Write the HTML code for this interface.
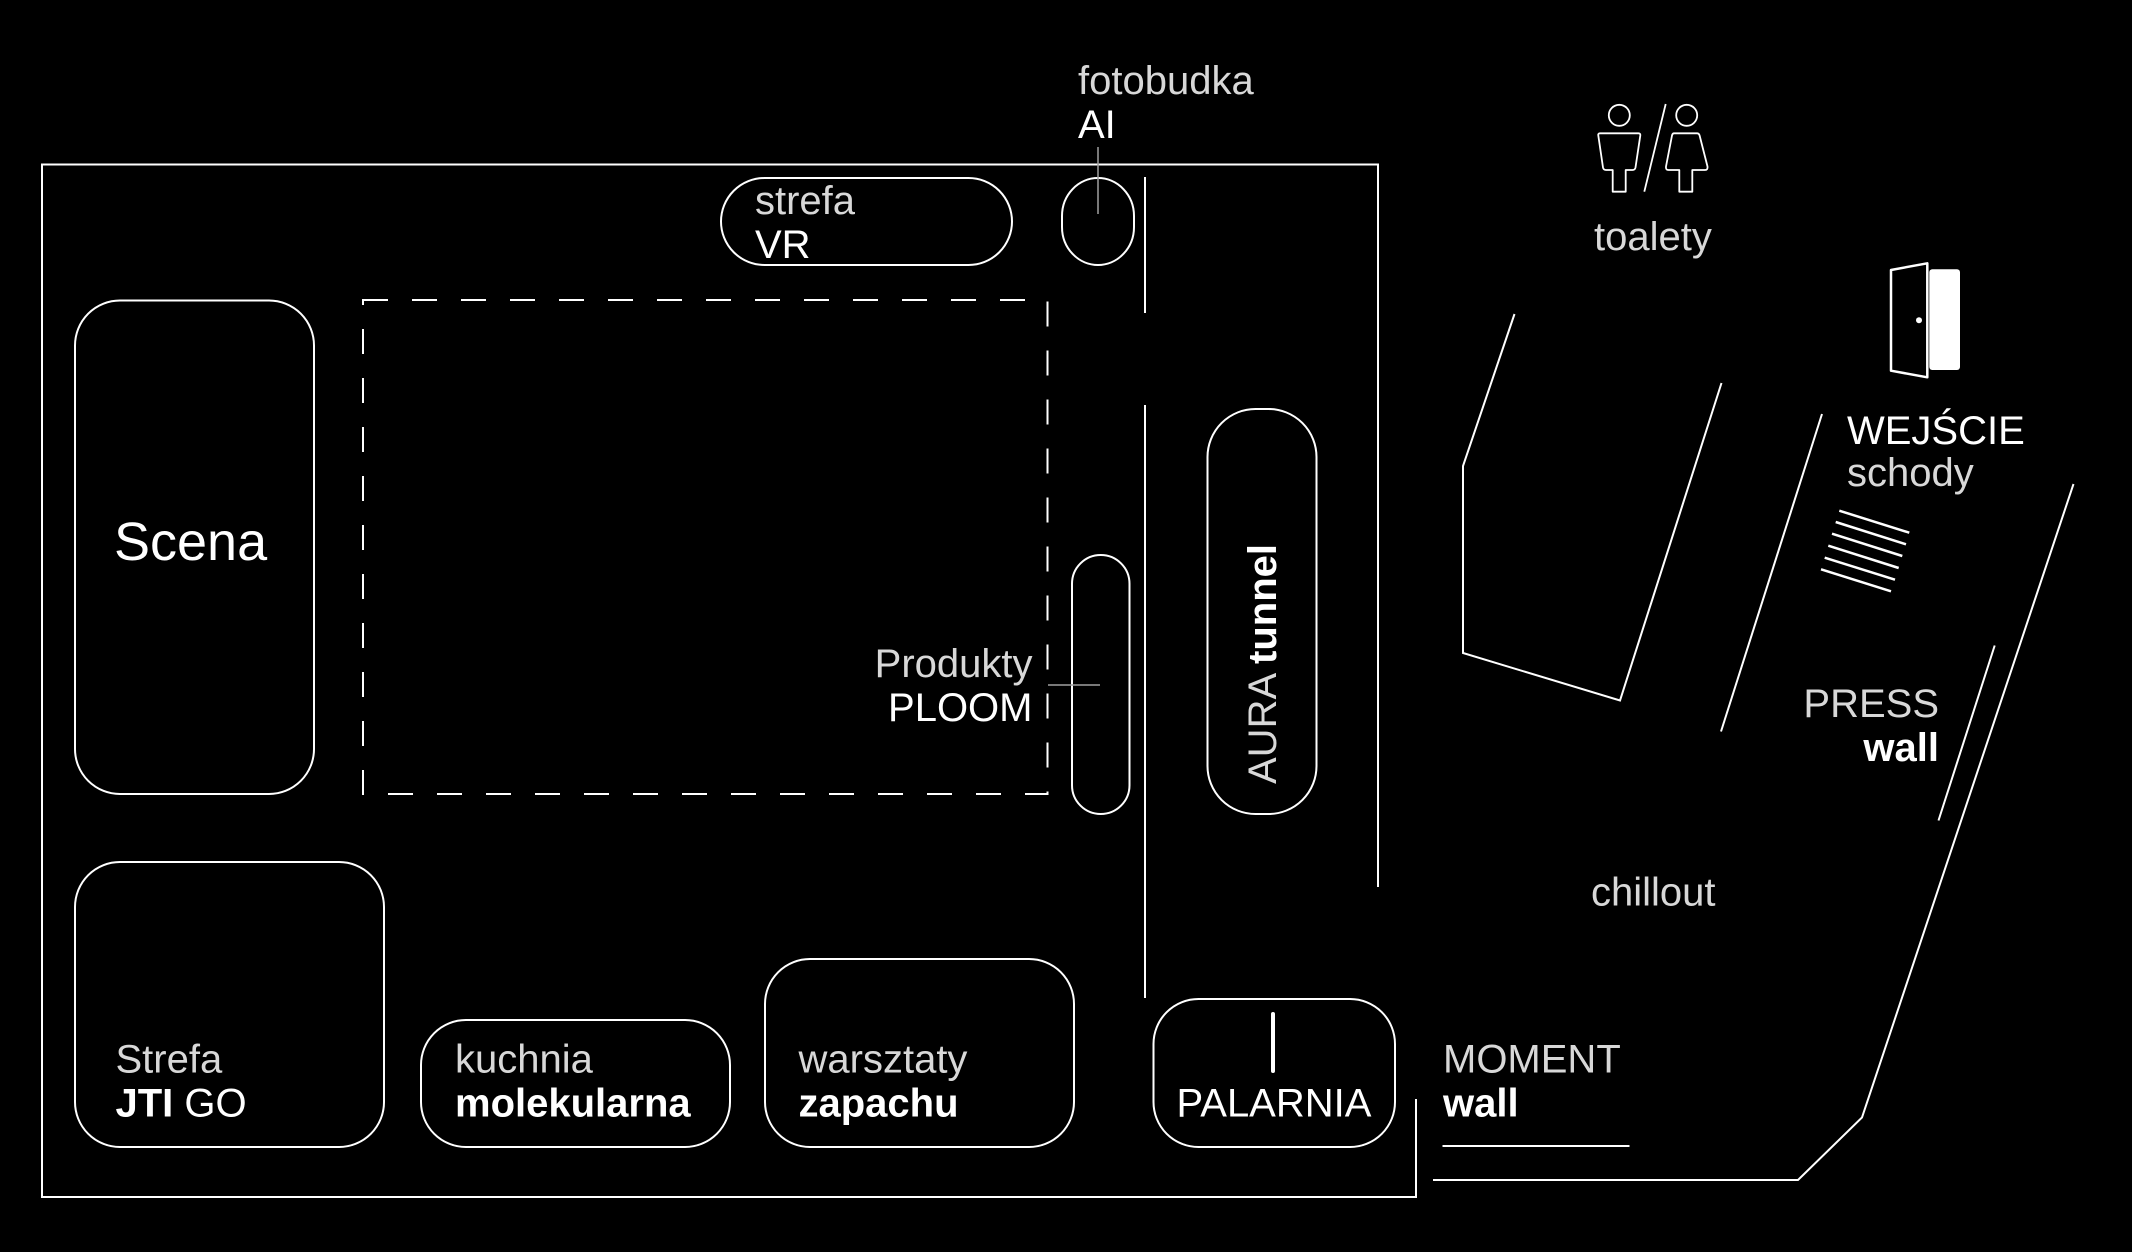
<!DOCTYPE html>
<html>
<head>
<meta charset="utf-8">
<style>
  html, body { margin: 0; padding: 0; background: #000; }
  body { width: 2132px; height: 1252px; overflow: hidden; }
  svg { display: block; }
  text { font-family: "Liberation Sans", "DejaVu Sans", sans-serif; font-size: 40px; }
  .l { fill: #d8d8d8; font-weight: 400; }
  .m { fill: #ffffff; font-weight: 400; }
  .b { fill: #ffffff; font-weight: 700; }
</style>
</head>
<body>
<svg width="2132" height="1252" viewBox="0 0 2132 1252" xmlns="http://www.w3.org/2000/svg">
  <rect x="0" y="0" width="2132" height="1252" fill="#000"/>

  <g fill="none" stroke="#fff" stroke-width="2">
    <!-- outer room -->
    <polyline points="1378,887 1378,164.5 42,164.5 42,1197 1416,1197 1416,1099"/>
    <!-- inner vertical wall -->
    <line x1="1145" y1="177" x2="1145" y2="313"/>
    <line x1="1145" y1="405" x2="1145" y2="998"/>

    <!-- right area lines -->
    <polyline points="1433,1180 1798,1180 1862,1117.5 2073.5,484"/>
    <polyline points="1514.5,314 1463,466 1463,653 1620,700.5 1721.5,383"/>
    <line x1="1822" y1="414" x2="1721" y2="731.5"/>
    <line x1="1994.7" y1="645.5" x2="1938.5" y2="820.5"/>
    <!-- MOMENT wall underline -->
    <line x1="1442.5" y1="1146" x2="1629.5" y2="1146"/>

    <!-- pills -->
    <rect x="721" y="178" width="291" height="87" rx="43.5" ry="43.5"/>
    <rect x="1062" y="178" width="72" height="87" rx="36" ry="38"/>
    <rect x="75" y="300.5" width="239" height="493.5" rx="45" ry="45"/>
    <rect x="1072" y="555" width="57.5" height="259" rx="28.75" ry="28.75"/>
    <rect x="1207.5" y="409" width="109" height="405" rx="48" ry="48"/>
    <rect x="75" y="862" width="309" height="285" rx="45" ry="45"/>
    <rect x="421" y="1020" width="309" height="127" rx="45" ry="45"/>
    <rect x="765" y="959" width="309" height="188" rx="45" ry="45"/>
    <rect x="1153.5" y="999" width="241.5" height="148" rx="45" ry="45"/>

    <!-- dashed zone -->
    <rect x="363" y="300" width="684.5" height="494" stroke-dasharray="25 24"/>
  </g>

  <!-- leader lines -->
  <g stroke="#a0a0a0" stroke-width="1.5" fill="none">
    <line x1="1098" y1="147" x2="1098" y2="214"/>
    <line x1="1048" y1="685" x2="1100" y2="685"/>
  </g>

  <!-- PALARNIA mark -->
  <line x1="1273" y1="1014" x2="1273" y2="1071" stroke="#fff" stroke-width="4" stroke-linecap="round"/>

  <!-- toilet icon -->
  <g fill="none" stroke="#fff" stroke-width="1.8" stroke-linejoin="round">
    <circle cx="1619.3" cy="115.3" r="10.5"/>
    <circle cx="1686.7" cy="115.3" r="10.5"/>
    <path d="M1600,133.3 L1638.5,133.3 Q1640.5,133.3 1640.3,135.5 L1635.5,167.5 Q1635,170 1632.5,170 L1625.7,170 L1625.7,191.7 L1612.7,191.7 L1612.7,170 L1606,170 Q1603.5,170 1603,167.5 L1598.3,135.5 Q1598,133.3 1600,133.3 Z"/>
    <path d="M1674,133.3 L1697,133.3 Q1699,133.3 1699.6,135.5 L1707.5,166.5 Q1708,170 1705,170 L1692.3,170 L1692.3,191.7 L1679.3,191.7 L1679.3,170 L1668.5,170 Q1665.5,170 1666,166.5 L1672,135.5 Q1672.5,133.3 1674,133.3 Z"/>
    <line x1="1665.7" y1="104" x2="1644.3" y2="191.7"/>
  </g>

  <!-- door icon -->
  <g>
    <rect x="1929.3" y="269.3" width="30.7" height="100.7" rx="3" ry="3" fill="#fff"/>
    <polygon points="1891,270 1927.3,263.3 1927.3,377.3 1891,370.7" fill="none" stroke="#fff" stroke-width="2.5" stroke-linejoin="round"/>
    <circle cx="1919" cy="320.3" r="3" fill="#fff"/>
  </g>

  <!-- stairs hatching -->
  <g stroke="#fff" stroke-width="2.5">
    <line x1="1839.3" y1="510.7" x2="1909.3" y2="532.7"/>
    <line x1="1835.7" y1="522" x2="1906" y2="544.3"/>
    <line x1="1832" y1="533.7" x2="1902.3" y2="556"/>
    <line x1="1828.3" y1="545.7" x2="1898.7" y2="568"/>
    <line x1="1824.7" y1="557.7" x2="1895" y2="579.7"/>
    <line x1="1821" y1="569.3" x2="1891" y2="591.3"/>
  </g>

  <!-- labels -->
  <text class="l" x="1078" y="94">fotobudka</text>
  <text class="m" x="1078" y="138">AI</text>

  <text class="l" x="755" y="214">strefa</text>
  <text class="m" x="755" y="258">VR</text>

  <text class="m" x="114" y="560" style="font-size:54px">Scena</text>

  <text class="l" x="1032.5" y="677" text-anchor="end">Produkty</text>
  <text class="m" x="1032.5" y="721" text-anchor="end">PLOOM</text>

  <text transform="translate(1276,784) rotate(-90)"><tspan class="l">AURA </tspan><tspan class="b">tunnel</tspan></text>

  <text class="l" x="115.5" y="1072.5">Strefa</text>
  <text x="115.5" y="1116.5"><tspan class="b">JTI</tspan><tspan class="m"> GO</tspan></text>

  <text class="l" x="455" y="1072.5">kuchnia</text>
  <text class="b" x="455" y="1116.5">molekularna</text>

  <text class="l" x="798.5" y="1072.5">warsztaty</text>
  <text class="b" x="798.5" y="1116.5">zapachu</text>

  <text class="m" x="1274" y="1116.5" text-anchor="middle">PALARNIA</text>

  <text class="l" x="1443" y="1072.5">MOMENT</text>
  <text class="b" x="1443" y="1116.5">wall</text>

  <text class="l" x="1591" y="905.5">chillout</text>

  <text class="l" x="1594" y="250">toalety</text>

  <text class="m" x="1847" y="444">WEJŚCIE</text>
  <text class="l" x="1847" y="486">schody</text>

  <text class="l" x="1939" y="717" text-anchor="end">PRESS</text>
  <text class="b" x="1939" y="761" text-anchor="end">wall</text>
</svg>
</body>
</html>
